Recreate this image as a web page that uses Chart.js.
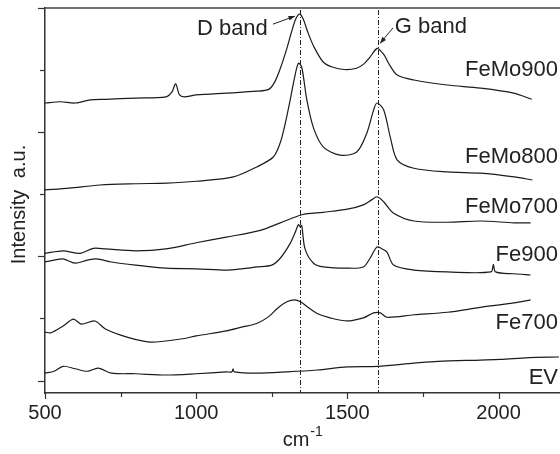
<!DOCTYPE html>
<html>
<head>
<meta charset="utf-8">
<script src="https://cdn.jsdelivr.net/npm/chart.js@4.4.0/dist/chart.umd.min.js"></script>
<style>
  html, body { margin: 0; padding: 0; background: #fff; }
  #wrap { width: 560px; height: 454px; }
</style>
</head>
<body>
<div id="wrap"><canvas id="c" width="560" height="454"></canvas></div>
<script>
// Raman spectra, stacked with offsets (x = wavenumber cm-1, y = intensity a.u.)
const feMo900 = [[500,447],[550,449],[600,447],[650,452],[700,453],[800,455],[900,457],[920,465],[932,478],[945,460],[960,457],[1000,460],[1100,463],[1200,466],[1240,469],[1260,481],[1280,505],[1300,535],[1315,561],[1330,583],[1343,590],[1355,581],[1370,560],[1390,537],[1420,513],[1450,505],[1490,501],[1530,503],[1555,510],[1575,521],[1598,535],[1610,531],[1622,524],[1640,508],[1665,492],[1720,484],[1830,476],[1940,471],[2050,463],[2110,453]];
const feMo800 = [[500,307],[580,310],[682,315],[800,317],[903,318],[1000,321],[1123,328],[1200,344],[1255,360],[1278,383],[1295,415],[1311,452],[1325,487],[1338,511],[1349,505],[1366,452],[1388,407],[1421,376],[1476,363],[1531,368],[1564,398],[1587,436],[1598,447],[1620,436],[1642,392],[1665,355],[1720,342],[1831,336],[1941,334],[2051,328],[2112,323]];
const feMo700 = [[500,205],[560,209],[616,205],[660,213],[700,212],[800,209],[900,212],[1000,222],[1100,231],[1212,242],[1278,254],[1350,267],[1420,271],[1500,276],[1553,283],[1580,291],[1598,296],[1620,288],[1652,270],[1720,257],[1831,255],[1941,257],[2051,254],[2106,254]];
const fe900 = [[500,191],[530,194],[560,196],[600,189],[640,194],[670,196],[720,191],[800,186],[900,181],[1000,180],[1100,178],[1150,180],[1200,183],[1250,186],[1278,197],[1311,221],[1327,238],[1338,251],[1344,248],[1349,250],[1360,212],[1388,189],[1421,183],[1499,181],[1553,183],[1575,197],[1598,215],[1615,212],[1631,207],[1653,186],[1720,178],[1831,175],[1975,175],[1983,187],[1990,175],[2051,172],[2106,170]];
const fe700 = [[500,78],[520,77],[560,88],[594,99],[620,91],[665,96],[700,83],[771,70],[848,62],[950,67],[1000,72],[1100,80],[1150,86],[1200,92],[1240,103],[1270,117],[1300,127],[1325,130],[1345,127],[1370,118],[1400,108],[1443,101],[1499,96],[1553,101],[1587,109],[1609,109],[1631,102],[1720,106],[1831,110],[1941,118],[2051,125],[2106,130]];
const ev = [[500,12],[530,15],[560,23],[600,19],[640,15],[676,20],[720,12],[800,11],[900,9],[1000,11],[1100,14],[1118,14],[1122,19],[1126,14],[1200,12],[1300,14],[1400,17],[1500,22],[1600,23],[1720,28],[1800,31],[1941,33],[2006,34],[2100,37],[2200,38]];

const seriesNames = ['FeMo900', 'FeMo800', 'FeMo700', 'Fe900', 'Fe700', 'EV'];
const seriesLabelY = [500, 360, 280, 202, 93, 4];
const xTickValues = [500, 1000, 1500, 2000];
const xMinorTicks = [750, 1250, 1750];
const yTickValues = [0, 100, 200, 300, 400, 500, 600];
const bandNames = ['D band', 'G band'];
const bandPositions = [1342, 1600];

const INK = '#1b1b1b';
const FONT = '"Liberation Sans", Arial, Helvetica, sans-serif';

const allSeries = [feMo900, feMo800, feMo700, fe900, fe700, ev];

const datasets = allSeries.map((s, i) => ({
  label: seriesNames[i],
  data: s.map(p => ({ x: p[0], y: p[1] })),
  borderColor: INK,
  borderWidth: 1.2,
  pointRadius: 0,
  tension: 0.3,
  fill: false
}));

const overlay = {
  id: 'overlay',
  beforeDatasetsDraw(chart) {
    const { ctx, chartArea: a, scales: { x } } = chart;
    ctx.save();
    ctx.strokeStyle = '#222';
    ctx.lineWidth = 1;
    ctx.setLineDash([5, 2, 1, 2]);
    bandPositions.forEach(v => {
      const px = Math.round(x.getPixelForValue(v)) + 0.5;
      ctx.beginPath();
      ctx.moveTo(px, a.top + 2);
      ctx.lineTo(px, a.bottom);
      ctx.stroke();
    });
    ctx.restore();
  },
  afterDatasetsDraw(chart) {
    const { ctx, chartArea: a, scales: { x, y } } = chart;
    ctx.save();

    // top frame line
    ctx.strokeStyle = '#444';
    ctx.lineWidth = 1.5;
    ctx.beginPath();
    ctx.moveTo(a.left, a.top);
    ctx.lineTo(560, a.top);
    ctx.stroke();

    // tick marks
    ctx.strokeStyle = '#333';
    ctx.lineWidth = 1.2;
    xTickValues.concat(xMinorTicks).forEach(v => {
      const px = Math.round(x.getPixelForValue(v)) + 0.5;
      const len = xTickValues.includes(v) ? 6 : 4;
      ctx.beginPath();
      ctx.moveTo(px, a.bottom);
      ctx.lineTo(px, a.bottom + len);
      ctx.stroke();
    });
    yTickValues.forEach(v => {
      const py = Math.round(y.getPixelForValue(v)) + 0.5;
      const len = v % 200 === 0 ? 7 : 5;
      ctx.beginPath();
      ctx.moveTo(a.left, py);
      ctx.lineTo(a.left - len, py);
      ctx.stroke();
    });

    // series labels
    ctx.fillStyle = '#222';
    ctx.font = '22px ' + FONT;
    ctx.textAlign = 'right';
    ctx.textBaseline = 'middle';
    seriesNames.forEach((n, i) => {
      ctx.fillText(n, 558, y.getPixelForValue(seriesLabelY[i]));
    });

    // band annotations
    ctx.font = '22px ' + FONT;
    ctx.textAlign = 'right';
    ctx.fillText(bandNames[0], x.getPixelForValue(1237), y.getPixelForValue(566));
    ctx.textAlign = 'left';
    ctx.fillText(bandNames[1], x.getPixelForValue(1657), y.getPixelForValue(569));
    const arrow = (x0, y0, x1, y1) => {
      const p0 = [x.getPixelForValue(x0), y.getPixelForValue(y0)];
      const p1 = [x.getPixelForValue(x1), y.getPixelForValue(y1)];
      const ang = Math.atan2(p1[1] - p0[1], p1[0] - p0[0]);
      ctx.strokeStyle = '#222';
      ctx.lineWidth = 1;
      ctx.beginPath();
      ctx.moveTo(p0[0], p0[1]);
      ctx.lineTo(p1[0], p1[1]);
      ctx.stroke();
      ctx.beginPath();
      ctx.moveTo(p1[0], p1[1]);
      ctx.lineTo(p1[0] - 7 * Math.cos(ang - 0.35), p1[1] - 7 * Math.sin(ang - 0.35));
      ctx.lineTo(p1[0] - 7 * Math.cos(ang + 0.35), p1[1] - 7 * Math.sin(ang + 0.35));
      ctx.closePath();
      ctx.fill();
    };
    arrow(1254, 574, 1327, 587);
    arrow(1651, 568, 1608, 543);

    // axis titles
    ctx.textAlign = 'left';
    ctx.textBaseline = 'alphabetic';
    ctx.font = '20px ' + FONT;
    const cmW = ctx.measureText('cm').width;
    const cx = (a.left + a.right) / 2 - 6;
    ctx.fillText('cm', cx - cmW / 2, 446);
    ctx.font = '14px ' + FONT;
    ctx.fillText('-1', cx + cmW / 2 + 1, 436);

    ctx.translate(19, (a.top + a.bottom) / 2 + 4);
    ctx.rotate(-Math.PI / 2);
    ctx.font = '20px ' + FONT;
    ctx.textAlign = 'center';
    ctx.textBaseline = 'middle';
    ctx.wordSpacing = '6px';
    ctx.fillText('Intensity a.u.', 0, 0);
    ctx.restore();
  }
};

new Chart(document.getElementById('c').getContext('2d'), {
  type: 'line',
  data: { datasets: datasets },
  options: {
    responsive: false,
    animation: false,
    layout: { padding: { top: 8, right: 1, left: 0, bottom: 0 } },
    plugins: { legend: { display: false }, tooltip: { enabled: false } },
    scales: {
      x: {
        type: 'linear',
        min: 500,
        max: 2200,
        afterBuildTicks: s => { s.ticks = xTickValues.map(v => ({ value: v })); },
        afterFit: s => { s.height = 61; },
        grid: { display: false },
        border: { display: true, color: '#333', width: 1.5 },
        ticks: {
          padding: 0,
          maxRotation: 0,
          color: '#222',
          font: { family: FONT, size: 20 },
          callback: v => String(v)
        }
      },
      y: {
        min: -20,
        max: 600,
        afterFit: s => { s.width = 45; },
        grid: { display: false },
        border: { display: true, color: '#333', width: 1.5 },
        ticks: { display: false }
      }
    }
  },
  plugins: [overlay]
});
</script>
</body>
</html>
